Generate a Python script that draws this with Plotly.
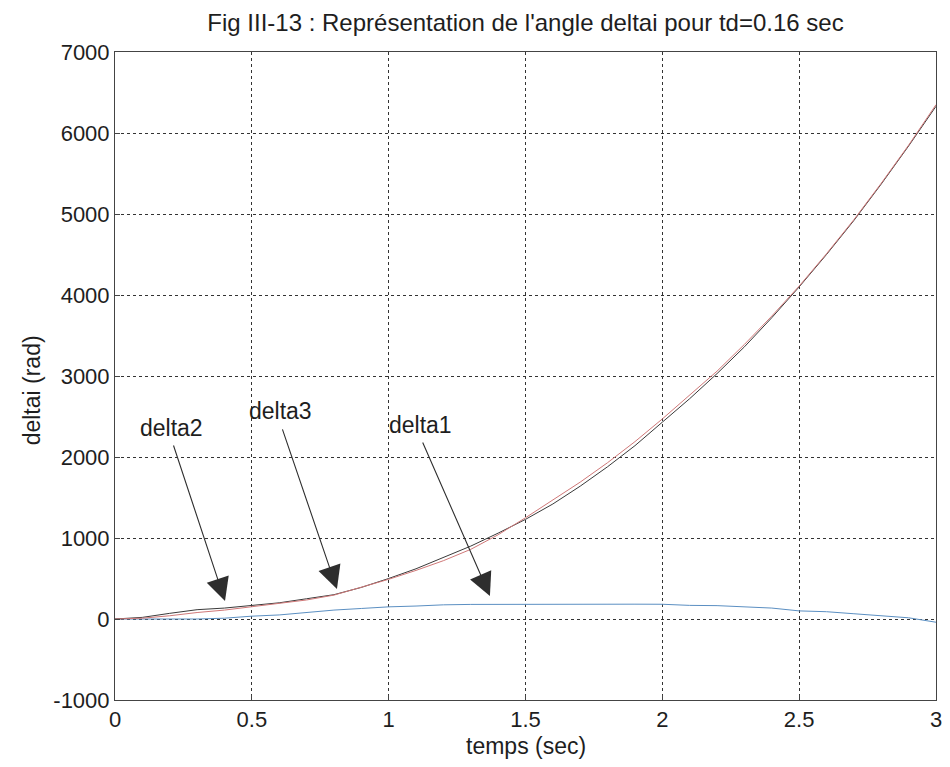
import plotly.graph_objects as go

t = [0.0, 0.1, 0.2, 0.3, 0.4, 0.5, 0.6, 0.7, 0.8, 0.9, 1.0, 1.1, 1.2, 1.3, 1.4, 1.5,
     1.6, 1.7, 1.8, 1.9, 2.0, 2.1, 2.2, 2.3, 2.4, 2.5, 2.6, 2.7, 2.8, 2.9, 3.0]

delta1 = [0, 0, -5, 0, 10, 35, 50, 80, 110, 130, 150, 160, 175, 180, 182, 183,
          183, 183, 183, 183, 182, 168, 165, 150, 135, 100, 90, 65, 40, 15, -40]

delta2 = [0, 20, 70, 115, 135, 165, 200, 250, 300, 390, 500, 620, 760, 900, 1060, 1230,
          1420, 1640, 1880, 2140, 2430, 2720, 3030, 3360, 3720, 4100, 4500, 4920, 5370, 5840, 6330]

delta3 = [0, 10, 40, 80, 110, 150, 190, 235, 295, 390, 490, 600, 720, 860, 1040, 1250,
          1470, 1690, 1930, 2190, 2470, 2760, 3060, 3390, 3740, 4110, 4510, 4930, 5380, 5850, 6350]

labels = ["delta2", "delta3", "delta1"]
label_pos = [(0.208, 2359), (0.603, 2569), (1.118, 2396)]
arrow_tail = [(0.212, 2160), (0.610, 2359), (1.122, 2198)]
arrow_tip = [(0.402, 222), (0.811, 370), (1.370, 284)]

x_ticks = [0, 0.5, 1, 1.5, 2, 2.5, 3]
x_tick_text = ["0", "0.5", "1", "1.5", "2", "2.5", "3"]
y_ticks = [-1000, 0, 1000, 2000, 3000, 4000, 5000, 6000, 7000]
y_tick_text = ["-1000", "0", "1000", "2000", "3000", "4000", "5000", "6000", "7000"]

font = "Liberation Sans, Arial, sans-serif"
txt = "#1e1e1e"

fig = go.Figure()
fig.add_trace(go.Scatter(x=t, y=delta1, mode="lines", name="delta1",
                         line=dict(color="#5b8fc2", width=1)))
fig.add_trace(go.Scatter(x=t, y=delta2, mode="lines", name="delta2",
                         line=dict(color="#3a3a3a", width=1)))
fig.add_trace(go.Scatter(x=t, y=delta3, mode="lines", name="delta3",
                         line=dict(color="#d07878", width=1)))

annotations = []
for lab, (lx, ly), (ax, ay), (tx, ty) in zip(labels, label_pos, arrow_tail, arrow_tip):
    annotations.append(dict(x=tx, y=ty, ax=ax, ay=ay, xref="x", yref="y",
                            axref="x", ayref="y", text="", showarrow=True,
                            arrowhead=2, arrowsize=4.2, arrowwidth=1.1,
                            arrowcolor="#2e2e2e"))
    annotations.append(dict(x=lx, y=ly, xref="x", yref="y", text=lab,
                            showarrow=False, font=dict(family=font, size=23, color=txt)))

# axis titles as paper annotations
annotations.append(dict(x=0.5, y=-0.071, xref="paper", yref="paper", text="temps (sec)",
                        showarrow=False, xanchor="center", yanchor="middle",
                        font=dict(family=font, size=23, color=txt)))
annotations.append(dict(x=-0.101, y=0.478, xref="paper", yref="paper", text="deltai (rad)",
                        showarrow=False, xanchor="center", yanchor="middle", textangle=-90,
                        font=dict(family=font, size=23, color=txt)))

fig.update_layout(
    width=950, height=767,
    margin=dict(l=115, r=14, t=52, b=67),
    paper_bgcolor="white", plot_bgcolor="white",
    showlegend=False,
    title=dict(text="Fig III-13 : Représentation de l'angle deltai pour td=0.16 sec",
               x=0.5, xref="paper", xanchor="center", y=0.970, yanchor="middle",
               font=dict(family=font, size=24, color=txt)),
    annotations=annotations,
    font=dict(family=font, size=22, color=txt),
)
fig.update_xaxes(range=[0, 3], tickvals=x_ticks, ticktext=x_tick_text, automargin=False,
                 showgrid=True, gridcolor="#333333", griddash="dot", gridwidth=1,
                 showline=True, linecolor="#444444", linewidth=1, mirror=True,
                 ticks="inside", ticklen=5, tickcolor="#444444", zeroline=False,
                 tickfont=dict(family=font, size=22, color=txt))
fig.update_yaxes(range=[-1000, 7000], tickvals=y_ticks, ticktext=y_tick_text, automargin=False,
                 showgrid=True, gridcolor="#333333", griddash="dot", gridwidth=1,
                 showline=True, linecolor="#444444", linewidth=1, mirror=True,
                 ticks="inside", ticklen=5, tickcolor="#444444", zeroline=False,
                 tickfont=dict(family=font, size=22, color=txt))

fig.write_html("out.html")
